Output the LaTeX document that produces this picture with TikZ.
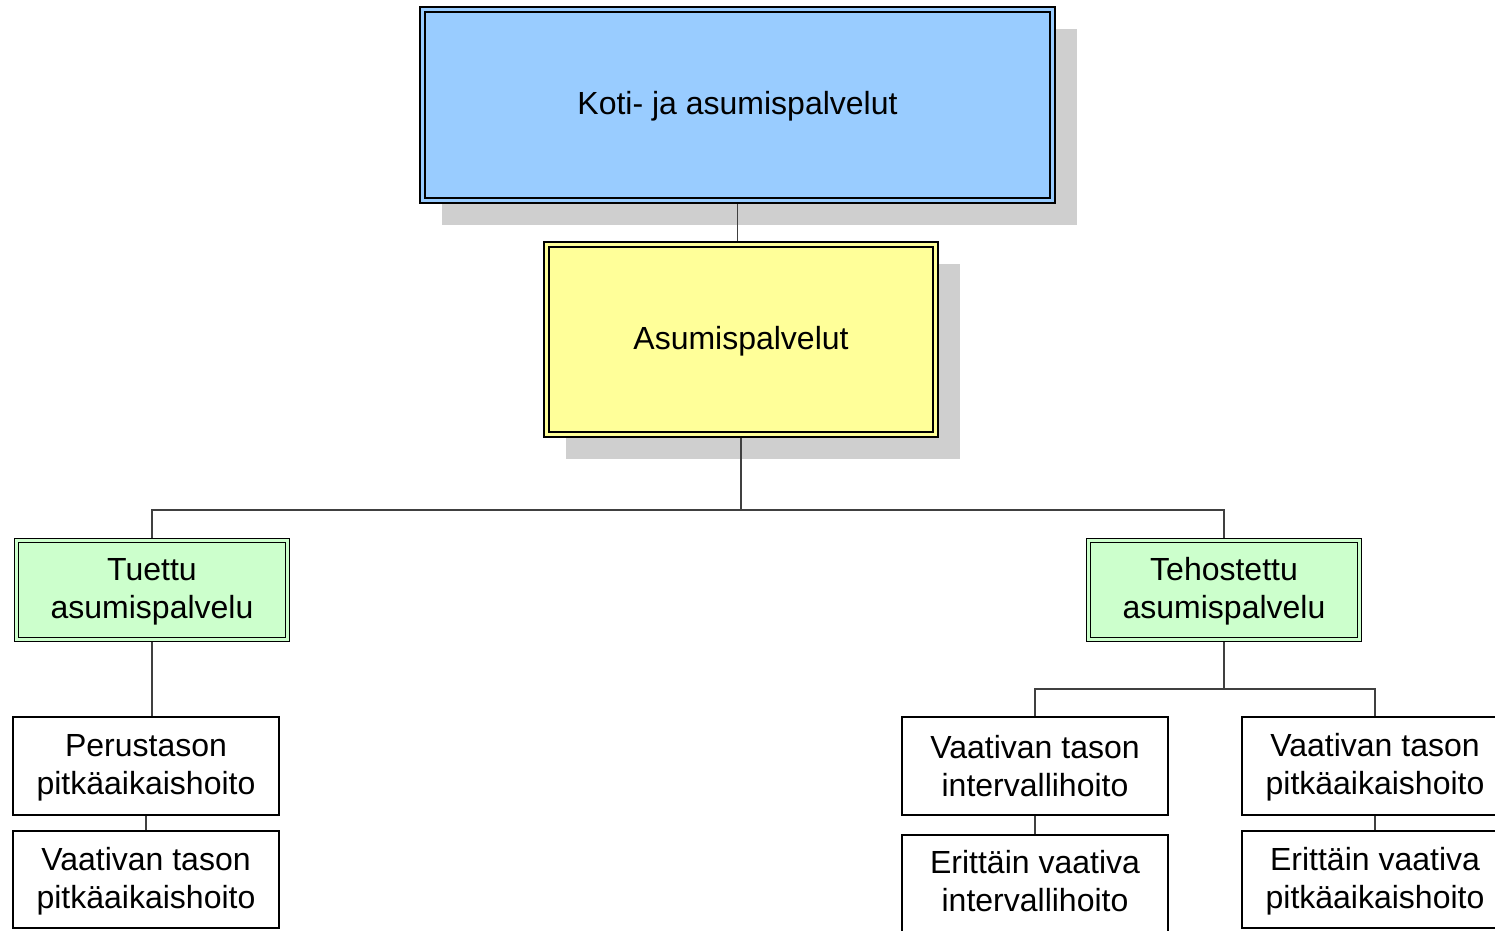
\documentclass[tikz,border=0pt]{standalone}
\usepackage{fontspec}
\setmainfont{Liberation Sans}
\usetikzlibrary{backgrounds}
\definecolor{boxblue}{HTML}{99CCFF}
\definecolor{boxyellow}{HTML}{FFFF99}
\definecolor{boxgreen}{HTML}{CCFFCC}
\definecolor{shadowgray}{HTML}{CFCFCF}
\definecolor{linkgray}{HTML}{404040}
\newcommand\mystrut{\rule[-4pt]{0pt}{30pt}}
\newcommand\deepstrut{\rule[-12pt]{0pt}{12pt}}
\tikzset{
  base/.style={inner sep=0pt, outer sep=0pt, align=center,
    font=\fontsize{32}{38}\selectfont, text=black},
  dbox/.style={base, draw=black, line width=1.5pt, double distance=3.5pt},
  bluebox/.style={dbox, double=boxblue, fill=boxblue},
  yellowbox/.style={dbox, double=boxyellow, fill=boxyellow},
  greenbox/.style={dbox, line width=1.3pt, double distance=3.2pt, double=boxgreen, fill=boxgreen},
  whitebox/.style={base, draw=black, line width=2pt, fill=white,
    minimum width=266pt, minimum height=98pt},
  link/.style={draw=linkgray, line width=1.2pt},
  shadowfill/.style={fill=shadowgray}
}
\begin{document}
\begin{tikzpicture}[x=1pt,y=-1pt]
\useasboundingbox (0,0) rectangle (1495,930);
\node[bluebox, minimum width=630pt, minimum height=191pt] (top) at (737.5,105) {\mystrut Koti- ja asumispalvelut};
\node[yellowbox, minimum width=389pt, minimum height=190pt] (mid) at (741,339.5) {\mystrut Asumispalvelut};
\node[greenbox, minimum width=271pt, minimum height=99pt] (gl) at (152,590) {\mystrut Tuettu\\\mystrut asumispalvelu};
\node[greenbox, minimum width=271pt, minimum height=99pt] (gr) at (1224,590) {\mystrut Tehostettu\\\mystrut asumispalvelu};
\node[whitebox] (w1) at (146,766) {\mystrut Perustason\\\mystrut pitkäaikaishoito};
\node[whitebox, minimum height=97pt] (w2) at (146,879.5) {\mystrut Vaativan tason\\\mystrut pitkäaikaishoito};
\node[whitebox] (w3) at (1035,766) {\mystrut Vaativan tason\\\mystrut intervallihoito};
\node[whitebox, minimum height=100pt] (w4) at (1035,885) {\mystrut Erittäin vaativa\\\mystrut intervallihoito\deepstrut};
\node[whitebox] (w5) at (1375,766) {\mystrut Vaativan tason\\\mystrut pitkäaikaishoito};
\node[whitebox, minimum height=97pt] (w6) at (1375,879.5) {\mystrut Erittäin vaativa\\\mystrut pitkäaikaishoito};
\coordinate (bus) at (741,510);
\coordinate (rbus) at (1224,689);
\begin{scope}[on background layer]
  \fill[shadowfill] ([shift={(19.5,19.5)}]top.north west) rectangle ([shift={(24.5,24.5)}]top.south east);
  \fill[shadowfill] ([shift={(19.5,19.5)}]mid.north west) rectangle ([shift={(24.5,24.5)}]mid.south east);
  \draw[link] (top.south) -- (top.south |- mid.north);
  \draw[link] (mid.south) -- (bus);
  \draw[link] (gl.north) |- (bus) -| (gr.north);
  \draw[link] (gl.south) -- (gl.south |- w1.north);
  \draw[link] (w1.south) -- (w2.north);
  \draw[link] (gr.south) -- (rbus);
  \draw[link] (w3.north) |- (rbus) -| (w5.north);
  \draw[link] (w3.south) -- (w4.north);
  \draw[link] (w5.south) -- (w6.north);
\end{scope}
\end{tikzpicture}
\end{document}
